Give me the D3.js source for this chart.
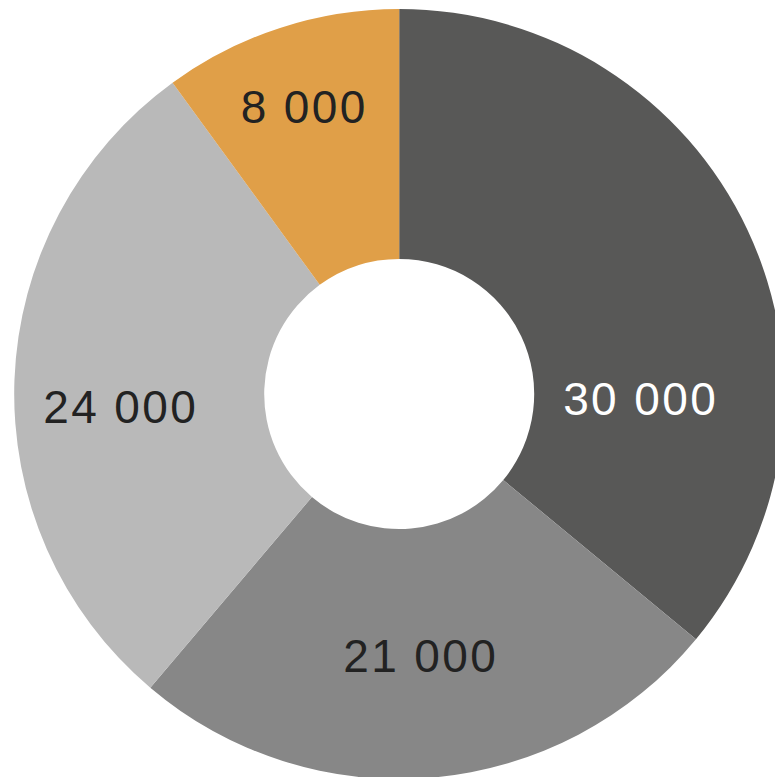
<!DOCTYPE html>
<html>
<head>
<meta charset="utf-8">
<script src="https://cdn.jsdelivr.net/npm/d3@7"></script>
<style>
  html, body { margin: 0; padding: 0; background: #ffffff; overflow: hidden; }
  svg { display: block; }
</style>
</head>
<body>
<svg id="chart" width="775" height="777"></svg>
<script>
const categories = ["A", "B", "C", "D"];
const values = [30000, 21000, 24000, 8350];
const labels = ["30 000", "21 000", "24 000", "8 000"];

// Styling / layout (kept separate from data)
const colors = ["#585857", "#878787", "#b9b9b9", "#e09f48"];
const labelColors = ["#ffffff", "#222222", "#222222", "#222222"];
const labelOffsets = [[241.5, 5], [21.5, 262], [-278.5, 12.7], [-95, -287]];

const cx = 399.2, cy = 394, outerR = 385, innerR = 135;
const fontSize = 46;

const svg = d3.select("#chart");
const g = svg.append("g").attr("transform", `translate(${cx},${cy})`);

const pie = d3.pie().sort(null).value(d => d.value);
const arc = d3.arc().innerRadius(innerR).outerRadius(outerR);

const data = categories.map((c, i) => ({ cat: c, value: values[i], label: labels[i], i }));
const arcs = pie(data);

g.selectAll("path.slice")
  .data(arcs)
  .join("path")
  .attr("class", "slice")
  .attr("d", arc)
  .attr("fill", d => colors[d.data.i]);

g.selectAll("text.lbl")
  .data(arcs)
  .join("text")
  .attr("class", "lbl")
  .attr("x", d => labelOffsets[d.data.i][0])
  .attr("y", d => labelOffsets[d.data.i][1] + fontSize * 0.358)
  .attr("text-anchor", "middle")
  .attr("font-family", "'Liberation Sans', Arial, sans-serif")
  .attr("font-size", fontSize)
  .attr("letter-spacing", "2.4px")
  .attr("fill", d => labelColors[d.data.i])
  .text(d => d.data.label);
</script>
</body>
</html>
